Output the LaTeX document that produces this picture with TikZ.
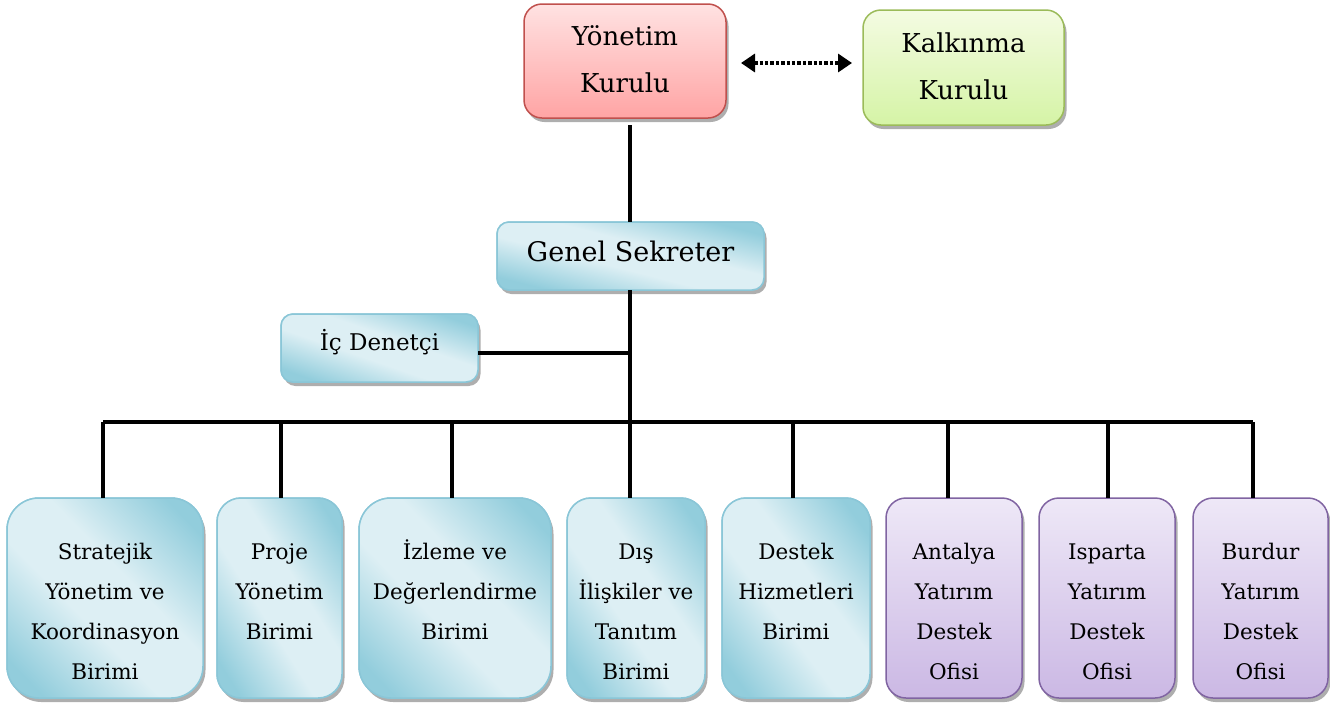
\documentclass[tikz,border=0pt]{standalone}
\usepackage{fontspec}
\setmainfont{DejaVu Serif}
\usetikzlibrary{arrows.meta,shadows}
\definecolor{bdk}{HTML}{92CDDC}
\definecolor{blt}{HTML}{DDEFF4}
\definecolor{bbord}{HTML}{8AC6D7}
\definecolor{rtop}{HTML}{FFE2E2}
\definecolor{rbot}{HTML}{FFA4A4}
\definecolor{rbord}{HTML}{C0504D}
\definecolor{gtop}{HTML}{F4FBE2}
\definecolor{gbot}{HTML}{D5F4A6}
\definecolor{gbord}{HTML}{9BBB59}
\definecolor{ptop}{HTML}{EEE8F7}
\definecolor{pbot}{HTML}{CBB8E4}
\definecolor{pbord}{HTML}{8064A2}
\pgfdeclareverticalshading{bluesh}{100bp}{color(0bp)=(bdk); color(31bp)=(bdk); color(45bp)=(blt); color(55bp)=(blt); color(69bp)=(bdk); color(100bp)=(bdk)}
\tikzset{
  basebox/.style={draw, line width=1.5pt, inner sep=0pt, outer sep=0pt,
    drop shadow={shadow xshift=2.5pt, shadow yshift=-4pt, fill=black!45, opacity=0.7}},
  bluebox/.style n args={2}{basebox, draw=bbord, fill=blt,
    minimum width=#1pt, minimum height=#2pt},
  redbox/.style={basebox, draw=rbord, top color=rtop, bottom color=rbot, rounded corners=18pt},
  greenbox/.style={basebox, draw=gbord, top color=gtop, bottom color=gbot, rounded corners=18pt},
  purplebox/.style={basebox, draw=pbord, top color=ptop, bottom color=pbot, rounded corners=20pt},
  lbl/.style={anchor=base, inner sep=0pt},
  toptxt/.style={lbl, font=\fontsize{26}{47}\selectfont},
  bottxt/.style={lbl, font=\fontsize{21.5}{40}\selectfont},
  conn/.style={line width=3.4pt, black},
}
\newcommand\lines[2]{\parbox[t]{#1}{\centering #2}}
% name, width, height, corner radius
\newcommand\blueshade[4]{%
  \begin{scope}
    \clip[rounded corners=#4pt] (#1.south west) rectangle (#1.north east);
    \shade[shading=bluesh, transform canvas={shift={(#1.center)}, xscale={#2/2}, yscale={#3/2}, rotate=-45}] (-1.5pt,-1.5pt) rectangle (1.5pt,1.5pt);
  \end{scope}
  \draw[bbord, line width=1.5pt, rounded corners=#4pt] (#1.south west) rectangle (#1.north east);}
\begin{document}
\begin{tikzpicture}[x=1pt,y=-1pt]
\useasboundingbox (0,0) rectangle (1330,705);
% boxes
\node[redbox, minimum width=202pt, minimum height=114pt] (yk) at (625,61) {};
\node[greenbox, minimum width=201pt, minimum height=115pt] (kk) at (963.5,67.5) {};
\node[bluebox={267}{68}, rounded corners=12pt] (gs) at (630.5,256) {};
\blueshade{gs}{267}{68}{12}
\node[bluebox={197}{68}, rounded corners=12pt] (id) at (379.5,348) {};
\blueshade{id}{197}{68}{12}
\coordinate (bus) at (630,422);
\coordinate (busL) at (103,422);
\coordinate (busR) at (1253,422);
\coordinate (yks) at (630,125);
\coordinate (idj) at (630,353);
\coordinate (a1) at (741,63);
\coordinate (a2) at (852,63);
% connectors
\draw[conn] (yks) -- (gs.north -| yks);
\draw[conn] (gs.south -| bus) -- (bus);
\draw[conn] (id.east |- idj) -- (idj);
\draw[conn] (busL) -- (busR);
\draw[{Triangle[length=14pt,width=18pt]}-{Triangle[length=14pt,width=18pt]}, line width=3.4pt, dotted] (a1) -- (a2);
% bottom boxes
\node[bluebox={196}{200}, rounded corners=32pt] (b1) at (105,598) {};
\blueshade{b1}{196}{200}{32}
\node[bluebox={125}{200}, rounded corners=24pt] (b2) at (279.5,598) {};
\blueshade{b2}{125}{200}{24}
\node[bluebox={192}{200}, rounded corners=32pt] (b3) at (455,598) {};
\blueshade{b3}{192}{200}{32}
\node[bluebox={138}{200}, rounded corners=24pt] (b4) at (636,598) {};
\blueshade{b4}{138}{200}{24}
\node[bluebox={148}{200}, rounded corners=24pt] (b5) at (796,598) {};
\blueshade{b5}{148}{200}{24}
\node[purplebox, minimum width=136pt, minimum height=200pt] (b6) at (954,598) {};
\node[purplebox, minimum width=136pt, minimum height=200pt] (b7) at (1107,598) {};
\node[purplebox, minimum width=135pt, minimum height=200pt] (b8) at (1260.5,598) {};
\foreach \n/\x in {b1/103,b2/281,b3/452,b4/630,b5/793,b6/948,b7/1108,b8/1253}
  \draw[conn] (\x,422) -- (\n.north -| \x,0);
% texts
\node[toptxt] (tyk) at (625,45.7) {\lines{200pt}{Yönetim\\Kurulu}};
\node[toptxt] (tkk) at (963.5,52) {\lines{200pt}{Kalkınma\\Kurulu}};
\node[toptxt, font=\fontsize{27}{47}\selectfont] (tgs) at (630.5,261) {Genel Sekreter};
\node[lbl, font=\fontsize{23}{40}\selectfont] (tid) at (379.5,350) {İç Denetçi};
\node[bottxt] (t1) at (105,559) {\lines{196pt}{Stratejik\\Yönetim ve\\Koordinasyon\\Birimi}};
\node[bottxt] (t2) at (279.5,559) {\lines{125pt}{Proje\\Yönetim\\Birimi}};
\node[bottxt] (t3) at (455,559) {\lines{192pt}{İzleme ve\\Değerlendirme\\Birimi}};
\node[bottxt] (t4) at (636,559) {\lines{138pt}{Dış\\İlişkiler ve\\Tanıtım\\Birimi}};
\node[bottxt] (t5) at (796,559) {\lines{148pt}{Destek\\Hizmetleri\\Birimi}};
\node[bottxt] (t6) at (954,559) {\lines{136pt}{Antalya\\Yatırım\\Destek\\Ofisi}};
\node[bottxt] (t7) at (1107,559) {\lines{136pt}{Isparta\\Yatırım\\Destek\\Ofisi}};
\node[bottxt] (t8) at (1260.5,559) {\lines{135pt}{Burdur\\Yatırım\\Destek\\Ofisi}};
\end{tikzpicture}
\end{document}
